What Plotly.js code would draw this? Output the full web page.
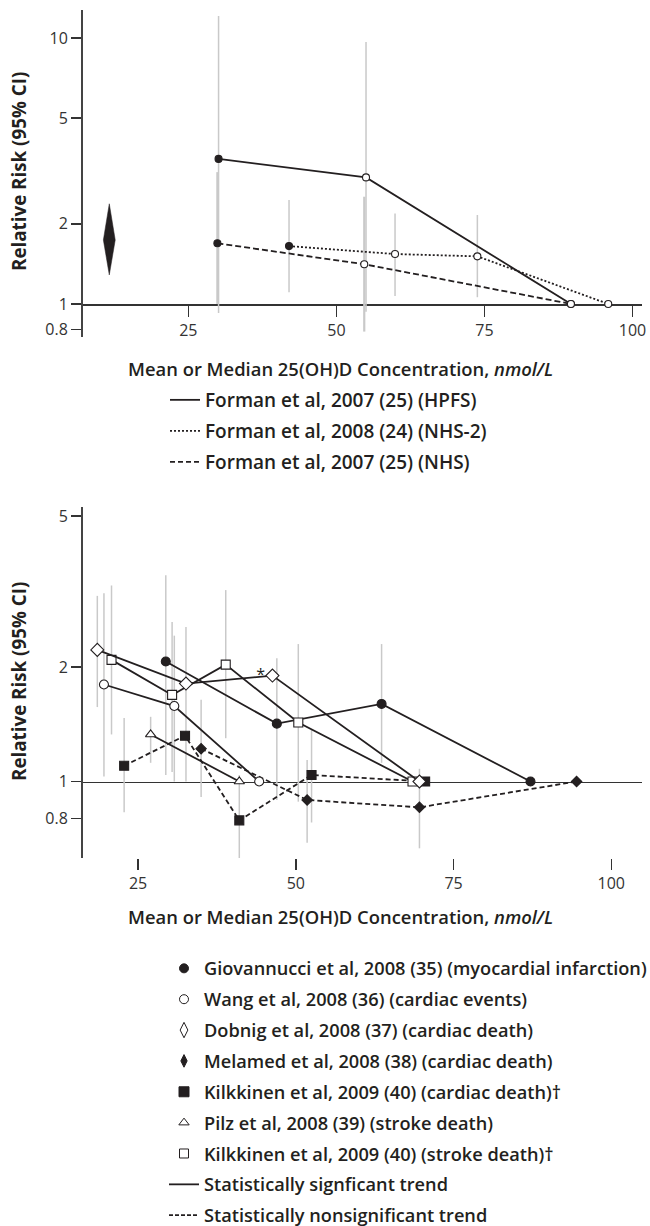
<!DOCTYPE html>
<html><head><meta charset="utf-8">
<script src="https://cdn.plot.ly/plotly-3.0.1.min.js"></script>
<style>html,body{margin:0;padding:0;background:#fff}#chart{width:650px;height:1226px}</style>
</head><body><div id="chart"></div>
<script>
// ---------- TOP PANEL DATA (Forman et al) ----------
const hpfsX  = [30.1, 55.0, 89.6];
const hpfsRR = [3.51, 2.99, 1.0];
const hpfsLo = [0.925, 0.935, null];
const hpfsHi = [12.1, 9.66, null];

const nhs2X  = [42.0, 59.9, 73.8, 95.9];
const nhs2RR = [1.65, 1.54, 1.51, 1.0];
const nhs2Lo = [1.106, 1.07, 1.06, null];
const nhs2Hi = [2.46, 2.19, 2.16, null];

const nhsX  = [29.9, 54.7, 89.6];
const nhsRR = [1.69, 1.41, 1.0];
const nhsLo = [1.0, 0.787, null];
const nhsHi = [3.13, 2.53, null];

const pooledX = 11.65, pooledRR = 1.74, pooledLo = 1.285, pooledHi = 2.38;

const topTicksX = [25, 50, 75, 100];
const topTicksY = [0.8, 1, 2, 5, 10];
const topLegend = ['Forman et al, 2007 (25) (HPFS)', 'Forman et al, 2008 (24) (NHS-2)', 'Forman et al, 2007 (25) (NHS)'];

// ---------- BOTTOM PANEL DATA ----------
const giovX  = [29.4, 47.0, 63.6, 87.2];
const giovRR = [2.07, 1.42, 1.60, 1.0];
const giovLo = [1.04, 0.894, 1.12, null];
const giovHi = [3.49, 2.11, 2.30, null];

const wangX  = [19.6, 30.75, 44.2];
const wangRR = [1.80, 1.58, 1.0];
const wangLo = [1.03, 1.0, null];
const wangHi = [3.13, 2.42, null];

const dobX  = [18.55, 32.6, 46.3, 69.6];
const dobRR = [2.22, 1.81, 1.90, 1.0];
const dobLo = [1.57, 1.0, null, null];
const dobHi = [3.08, 2.55, null, null];
const dobNote = ['', '', '*', ''];

const melX  = [35.0, 51.8, 69.6, 94.5];
const melRR = [1.22, 0.894, 0.855, 1.0];
const melLo = [0.91, 0.69, 0.667, null];
const melHi = [1.64, 1.14, 1.08, null];

const kcX  = [22.8, 32.45, 41.05, 52.5, 70.5];
const kcRR = [1.10, 1.32, 0.79, 1.04, 1.0];
const kcLo = [0.83, null, 0.585, 0.78, null];
const kcHi = [1.47, null, 1.04, 1.37, null];

const pilzX  = [27.0, 41.05];
const pilzRR = [1.33, 1.0];
const pilzLo = [1.12, null];
const pilzHi = [1.48, null];

const ksX  = [20.8, 30.4, 38.9, 50.4, 68.5];
const ksRR = [2.09, 1.69, 2.03, 1.43, 1.0];
const ksLo = [1.33, 1.06, 1.30, 0.885, null];
const ksHi = [3.28, 2.63, 3.19, 2.30, null];

const botTicksX = [25, 50, 75, 100];
const botTicksY = [0.8, 1, 2, 5];
const botLegend = [
  'Giovannucci et al, 2008 (35) (myocardial infarction)',
  'Wang et al, 2008 (36) (cardiac events)',
  'Dobnig et al, 2008 (37) (cardiac death)',
  'Melamed et al, 2008 (38) (cardiac death)',
  'Kilkkinen et al, 2009 (40) (cardiac death)†',
  'Pilz et al, 2008 (39) (stroke death)',
  'Kilkkinen et al, 2009 (40) (stroke death)†',
  'Statistically signficant trend',
  'Statistically nonsignificant trend'
];
const axisTitle = 'Mean or Median 25(OH)D Concentration, <i>nmol/L</i>';
const yTitle = 'Relative Risk (95% CI)';

// ---------- BUILD ----------
const W = 650, H = 1226;
const INK = '#231f20', BAR = '#c9c9c9', WHITE = '#ffffff';
const FONT = 'Open Sans, Noto Sans, sans-serif';

function errTrace(xs, rr, lo, hi, xa, ya, thick) {
  const idx = xs.map((_, i) => i).filter(i => lo[i] != null && hi[i] != null);
  return {
    type: 'scatter', mode: 'markers', xaxis: xa, yaxis: ya,
    x: idx.map(i => xs[i]), y: idx.map(i => rr[i]),
    marker: {size: 2, opacity: 0},
    error_y: {type: 'data', symmetric: false,
      array: idx.map(i => hi[i] - rr[i]), arrayminus: idx.map(i => rr[i] - lo[i]),
      color: BAR, thickness: thick, width: 0},
    showlegend: false, hoverinfo: 'skip', cliponaxis: false
  };
}
function series(xs, rr, xa, ya, dash, symbol, size, fills, lw) {
  return {
    type: 'scatter', mode: 'lines+markers', xaxis: xa, yaxis: ya, x: xs, y: rr,
    line: {color: INK, width: lw || 1.8, dash: dash},
    marker: {symbol: symbol, size: size, color: fills, line: {color: INK, width: 1.1}},
    showlegend: false, hoverinfo: 'skip', cliponaxis: false
  };
}
const firstFilled = xs => xs.map((_, i) => i === 0 ? INK : WHITE);

const traces = [];
// top error bars
traces.push(errTrace(hpfsX, hpfsRR, hpfsLo, hpfsHi, 'x', 'y', 1.5));
traces.push(errTrace(nhsX, nhsRR, nhsLo, nhsHi, 'x', 'y', 2.2));
traces.push(errTrace(nhs2X, nhs2RR, nhs2Lo, nhs2Hi, 'x', 'y', 1.5));
// pooled diamond
const hw = 1.0;
traces.push({type: 'scatter', mode: 'lines', xaxis: 'x', yaxis: 'y',
  x: [pooledX, pooledX + hw, pooledX, pooledX - hw, pooledX],
  y: [pooledHi, pooledRR, pooledLo, pooledRR, pooledHi],
  fill: 'toself', fillcolor: INK, line: {color: INK, width: 0.5},
  showlegend: false, hoverinfo: 'skip'});
// top series
traces.push(series(nhsX, nhsRR, 'x', 'y', '6px,3px', 'circle', 7, firstFilled(nhsX), 1.8));
traces.push(series(nhs2X, nhs2RR, 'x', 'y', '2px,2px', 'circle', 7, firstFilled(nhs2X), 1.8));
traces.push(series(hpfsX, hpfsRR, 'x', 'y', 'solid', 'circle', 7, firstFilled(hpfsX), 1.8));

// bottom error bars on the base subplot (x2), series on the overlay (x3) so bars stay behind
[[giovX, giovRR, giovLo, giovHi], [wangX, wangRR, wangLo, wangHi], [dobX, dobRR, dobLo, dobHi],
 [melX, melRR, melLo, melHi], [kcX, kcRR, kcLo, kcHi], [pilzX, pilzRR, pilzLo, pilzHi],
 [ksX, ksRR, ksLo, ksHi]].forEach(s => traces.push(errTrace(s[0], s[1], s[2], s[3], 'x2', 'y2', 1.5)));

const fillAll = (xs, c) => xs.map(() => c);
const DASH = '5px,3px';
traces.push(series(melX, melRR, 'x3', 'y2', DASH, 'diamond', 8, fillAll(melX, INK)));
traces.push(series(kcX, kcRR, 'x3', 'y2', DASH, 'square', 9, fillAll(kcX, INK)));
traces.push(series(pilzX, pilzRR, 'x3', 'y2', 'solid', 'triangle-up', 9, fillAll(pilzX, WHITE)));
traces.push(series(wangX, wangRR, 'x3', 'y2', 'solid', 'circle', 9, fillAll(wangX, WHITE)));
traces.push(series(giovX, giovRR, 'x3', 'y2', 'solid', 'circle', 9, fillAll(giovX, INK)));
traces.push(series(ksX, ksRR, 'x3', 'y2', 'solid', 'square', 9, fillAll(ksX, WHITE)));
const dobTrace = series(dobX, dobRR, 'x3', 'y2', 'solid', 'diamond', 10, fillAll(dobX, WHITE));
dobTrace.mode = 'lines+markers+text';
dobTrace.text = dobNote;
dobTrace.textposition = 'middle left';
dobTrace.textfont = {family: FONT, size: 16, color: INK};
traces.push(dobTrace);

// legend-only entries
const TOPLEGFONT = {family: FONT, size: 19, color: INK, weight: 600};
const BOTLEGFONT = {family: FONT, size: 18.2, color: INK, weight: 600};
const topDashes = ['solid', '2px,2px', '5px,3px'];
topLegend.forEach((name, i) => traces.push({type: 'scatter', mode: 'lines', x: [null], y: [null],
  xaxis: 'x', yaxis: 'y', name: name, legend: 'legend', legendgroup: 't' + i,
  line: {color: INK, width: 1.8, dash: topDashes[i]}, hoverinfo: 'skip'}));

const botSymbols = ['circle', 'circle', 'diamond-tall', 'diamond-tall', 'square', 'triangle-up', 'square'];
const botFills = [INK, WHITE, WHITE, INK, INK, WHITE, WHITE];
const botSizes = [9, 9, 11, 9, 10, 9, 9];
botLegend.forEach((name, i) => {
  if (i < 7) {
    traces.push({type: 'scatter', mode: 'markers', x: [null], y: [null], xaxis: 'x2', yaxis: 'y2',
      name: name, legend: 'legend2', legendgroup: 'b' + i,
      marker: {symbol: botSymbols[i], size: botSizes[i], color: botFills[i], line: {color: INK, width: 1}},
      hoverinfo: 'skip'});
  } else {
    traces.push({type: 'scatter', mode: 'lines', x: [null], y: [null], xaxis: 'x2', yaxis: 'y2',
      name: name, legend: 'legend2', legendgroup: 'b' + i,
      line: {color: INK, width: 1.8, dash: i === 7 ? 'solid' : '4px,2px'}, hoverinfo: 'skip'});
  }
});

const tickFont = {family: FONT, size: 16, color: '#333333'};
const xDom = [83 / W, 642 / W];
const layout = {
  width: W, height: H, margin: {l: 0, r: 0, t: 0, b: 0, autoexpand: false},
  paper_bgcolor: '#fff', plot_bgcolor: 'rgba(0,0,0,0)',
  showlegend: true,
  xaxis: {domain: xDom, range: [7.21, 101.6], anchor: 'free', position: 1 - 304 / H,
    showline: true, linecolor: '#333', linewidth: 1.5, ticks: 'outside', ticklen: 11,
    tickwidth: 1.5, tickcolor: '#333', tickvals: topTicksX, ticktext: topTicksX.map(String),
    tickfont: tickFont, showgrid: false, zeroline: false, layer: 'below traces', automargin: false},
  yaxis: {type: 'log', domain: [1 - 337 / H, 1 - 10 / H],
    range: [Math.log10(0.751), Math.log10(12.74)], anchor: 'x',
    showline: true, linecolor: '#444', linewidth: 2, ticks: 'outside', ticklen: 10,
    tickwidth: 1.5, tickcolor: '#333', tickvals: topTicksY, ticktext: topTicksY.map(String),
    tickfont: tickFont, showgrid: false, zeroline: false, automargin: false},
  xaxis2: {domain: xDom, range: [16.28, 104.87], anchor: 'y2',
    showline: false, ticks: 'outside', ticklen: 11, tickwidth: 1.5, tickcolor: '#333',
    tickvals: botTicksX, ticktext: botTicksX.map(String), tickfont: tickFont,
    showgrid: false, zeroline: false, automargin: false},
  xaxis3: {domain: xDom, range: [16.28, 104.87], overlaying: 'x2', anchor: 'free',
    position: 1 - 781.5 / H, showline: true, linecolor: '#333', linewidth: 1.5,
    ticks: '', showticklabels: false, showgrid: false, zeroline: false, layer: 'below traces',
    automargin: false},
  yaxis2: {type: 'log', domain: [1 - 858 / H, 1 - 507 / H],
    range: [Math.log10(0.629), Math.log10(5.278)], anchor: 'x2',
    showline: true, linecolor: '#444', linewidth: 2, ticks: 'outside', ticklen: 10,
    tickwidth: 1.5, tickcolor: '#333', tickvals: botTicksY, ticktext: botTicksY.map(String),
    tickfont: tickFont, showgrid: false, zeroline: false, automargin: false},
  legend: {x: 165 / W, y: 1 - 381 / H, xanchor: 'left', yanchor: 'top',
    font: TOPLEGFONT, tracegroupgap: 3.3, bgcolor: 'rgba(0,0,0,0)', traceorder: 'grouped'},
  legend2: {x: 164 / W, y: 1 - 950 / H, xanchor: 'left', yanchor: 'top',
    font: BOTLEGFONT, tracegroupgap: 4.2, bgcolor: 'rgba(0,0,0,0)', traceorder: 'grouped'},
  annotations: [
    {text: yTitle, xref: 'paper', yref: 'paper', x: 19 / W, y: 1 - 172 / H, textangle: -90,
     xanchor: 'center', yanchor: 'middle',
     showarrow: false, font: {family: FONT, size: 18.8, color: INK, weight: 700}},
    {text: yTitle, xref: 'paper', yref: 'paper', x: 19 / W, y: 1 - 682 / H, textangle: -90,
     xanchor: 'center', yanchor: 'middle',
     showarrow: false, font: {family: FONT, size: 18.8, color: INK, weight: 700}},
    {text: axisTitle, xref: 'paper', yref: 'paper', x: 340 / W, y: 1 - 368 / H,
     xanchor: 'center', yanchor: 'middle',
     showarrow: false, font: {family: FONT, size: 18.4, color: INK, weight: 600}},
    {text: axisTitle, xref: 'paper', yref: 'paper', x: 340 / W, y: 1 - 917 / H,
     xanchor: 'center', yanchor: 'middle',
     showarrow: false, font: {family: FONT, size: 18.4, color: INK, weight: 600}}
  ]
};
Plotly.newPlot('chart', traces, layout, {staticPlot: true, displayModeBar: false});
</script></body></html>
